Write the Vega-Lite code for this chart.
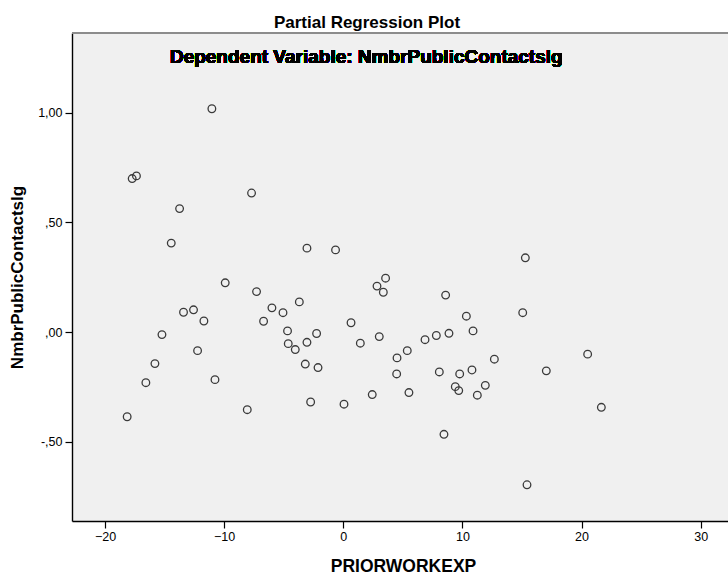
{
  "$schema": "https://vega.github.io/schema/vega-lite/v6.json",
  "width": 656,
  "height": 488,
  "autosize": {"type": "none"},
  "padding": {"left": 72, "top": 33, "right": 0, "bottom": 59},
  "background": "#ffffff",
  "title": {
    "text": "Partial Regression Plot",
    "font": "Liberation Sans",
    "fontSize": 17,
    "fontWeight": "bold",
    "color": "#000000",
    "anchor": "middle",
    "baseline": "middle",
    "offset": -8,
    "dx": -33
  },
  "config": {
    "view": {"fill": "#f0f0f0", "stroke": null},
    "font": "Liberation Sans"
  },
  "data": {
    "values": [
      {"PRIORWORKEXP": -11.03, "NmbrPublicContactslg": 1.018},
      {"PRIORWORKEXP": -17.72, "NmbrPublicContactslg": 0.700},
      {"PRIORWORKEXP": -17.36, "NmbrPublicContactslg": 0.712},
      {"PRIORWORKEXP": -7.70, "NmbrPublicContactslg": 0.634},
      {"PRIORWORKEXP": -13.74, "NmbrPublicContactslg": 0.563},
      {"PRIORWORKEXP": -14.44, "NmbrPublicContactslg": 0.406},
      {"PRIORWORKEXP": -3.05, "NmbrPublicContactslg": 0.383},
      {"PRIORWORKEXP": -0.65, "NmbrPublicContactslg": 0.375},
      {"PRIORWORKEXP": -9.91, "NmbrPublicContactslg": 0.225},
      {"PRIORWORKEXP": -7.28, "NmbrPublicContactslg": 0.185},
      {"PRIORWORKEXP": -5.99, "NmbrPublicContactslg": 0.111},
      {"PRIORWORKEXP": -5.06, "NmbrPublicContactslg": 0.089},
      {"PRIORWORKEXP": -3.69, "NmbrPublicContactslg": 0.138},
      {"PRIORWORKEXP": -13.41, "NmbrPublicContactslg": 0.091},
      {"PRIORWORKEXP": -12.57, "NmbrPublicContactslg": 0.102},
      {"PRIORWORKEXP": -11.70, "NmbrPublicContactslg": 0.051},
      {"PRIORWORKEXP": -6.69, "NmbrPublicContactslg": 0.050},
      {"PRIORWORKEXP": -15.22, "NmbrPublicContactslg": -0.011},
      {"PRIORWORKEXP": -4.68, "NmbrPublicContactslg": 0.006},
      {"PRIORWORKEXP": -2.24, "NmbrPublicContactslg": -0.006},
      {"PRIORWORKEXP": 0.65, "NmbrPublicContactslg": 0.043},
      {"PRIORWORKEXP": -12.23, "NmbrPublicContactslg": -0.084},
      {"PRIORWORKEXP": -15.81, "NmbrPublicContactslg": -0.143},
      {"PRIORWORKEXP": -16.57, "NmbrPublicContactslg": -0.230},
      {"PRIORWORKEXP": -10.77, "NmbrPublicContactslg": -0.216},
      {"PRIORWORKEXP": -18.14, "NmbrPublicContactslg": -0.385},
      {"PRIORWORKEXP": -8.06, "NmbrPublicContactslg": -0.353},
      {"PRIORWORKEXP": -4.62, "NmbrPublicContactslg": -0.052},
      {"PRIORWORKEXP": -4.03, "NmbrPublicContactslg": -0.079},
      {"PRIORWORKEXP": -3.05, "NmbrPublicContactslg": -0.046},
      {"PRIORWORKEXP": -3.19, "NmbrPublicContactslg": -0.145},
      {"PRIORWORKEXP": -2.12, "NmbrPublicContactslg": -0.161},
      {"PRIORWORKEXP": -2.74, "NmbrPublicContactslg": -0.318},
      {"PRIORWORKEXP": 0.06, "NmbrPublicContactslg": -0.328},
      {"PRIORWORKEXP": 15.28, "NmbrPublicContactslg": 0.339},
      {"PRIORWORKEXP": 3.55, "NmbrPublicContactslg": 0.246},
      {"PRIORWORKEXP": 2.83, "NmbrPublicContactslg": 0.210},
      {"PRIORWORKEXP": 3.36, "NmbrPublicContactslg": 0.182},
      {"PRIORWORKEXP": 8.59, "NmbrPublicContactslg": 0.169},
      {"PRIORWORKEXP": 10.33, "NmbrPublicContactslg": 0.073},
      {"PRIORWORKEXP": 15.06, "NmbrPublicContactslg": 0.089},
      {"PRIORWORKEXP": 1.43, "NmbrPublicContactslg": -0.050},
      {"PRIORWORKEXP": 3.02, "NmbrPublicContactslg": -0.020},
      {"PRIORWORKEXP": 6.86, "NmbrPublicContactslg": -0.034},
      {"PRIORWORKEXP": 7.81, "NmbrPublicContactslg": -0.015},
      {"PRIORWORKEXP": 8.87, "NmbrPublicContactslg": -0.005},
      {"PRIORWORKEXP": 10.89, "NmbrPublicContactslg": 0.006},
      {"PRIORWORKEXP": 5.37, "NmbrPublicContactslg": -0.084},
      {"PRIORWORKEXP": 4.51, "NmbrPublicContactslg": -0.117},
      {"PRIORWORKEXP": 12.68, "NmbrPublicContactslg": -0.123},
      {"PRIORWORKEXP": 20.51, "NmbrPublicContactslg": -0.100},
      {"PRIORWORKEXP": 4.48, "NmbrPublicContactslg": -0.190},
      {"PRIORWORKEXP": 8.06, "NmbrPublicContactslg": -0.181},
      {"PRIORWORKEXP": 9.77, "NmbrPublicContactslg": -0.190},
      {"PRIORWORKEXP": 10.80, "NmbrPublicContactslg": -0.172},
      {"PRIORWORKEXP": 17.04, "NmbrPublicContactslg": -0.176},
      {"PRIORWORKEXP": 9.40, "NmbrPublicContactslg": -0.248},
      {"PRIORWORKEXP": 9.69, "NmbrPublicContactslg": -0.266},
      {"PRIORWORKEXP": 11.92, "NmbrPublicContactslg": -0.242},
      {"PRIORWORKEXP": 11.25, "NmbrPublicContactslg": -0.287},
      {"PRIORWORKEXP": 5.51, "NmbrPublicContactslg": -0.275},
      {"PRIORWORKEXP": 2.43, "NmbrPublicContactslg": -0.284},
      {"PRIORWORKEXP": 21.66, "NmbrPublicContactslg": -0.342},
      {"PRIORWORKEXP": 8.45, "NmbrPublicContactslg": -0.465},
      {"PRIORWORKEXP": 15.42, "NmbrPublicContactslg": -0.695}
    ]
  },
  "layer": [
    {
      "mark": {"type": "rule", "color": "#8c8c8c", "strokeWidth": 1.6},
      "encoding": {"y": {"datum": 1.363, "type": "quantitative"}}
    },
    {
      "mark": {
        "type": "point",
        "shape": "circle",
        "filled": false,
        "size": 58,
        "stroke": "#3a3a3a",
        "strokeWidth": 1.3,
        "opacity": 1
      },
      "encoding": {
        "x": {
          "field": "PRIORWORKEXP",
          "type": "quantitative",
          "scale": {"domain": [-22.77, 32.29], "nice": false, "zero": false},
          "axis": {
            "title": "PRIORWORKEXP",
            "values": [-20, -10, 0, 10, 20, 30],
            "grid": false,
            "domainColor": "#000000",
            "domainWidth": 1.4,
            "tickColor": "#000000",
            "tickWidth": 1.2,
            "tickSize": 7,
            "labelFont": "Liberation Sans",
            "labelFontSize": 12.5,
            "labelColor": "#000000",
            "labelPadding": 2,
            "titleFont": "Liberation Sans",
            "titleFontSize": 17.5,
            "titleFontWeight": "bold",
            "titleColor": "#000000",
            "titleBaseline": "middle",
            "titleY": 45,
            "titleX": 331
          }
        },
        "y": {
          "field": "NmbrPublicContactslg",
          "type": "quantitative",
          "scale": {"domain": [-0.86, 1.363], "nice": false, "zero": false},
          "axis": {
            "title": "NmbrPublicContactslg",
            "values": [-0.5, 0, 0.5, 1],
            "labelExpr": "datum.value == 1 ? '1,00' : datum.value == 0.5 ? ',50' : datum.value == 0 ? ',00' : '-,50'",
            "grid": false,
            "domainColor": "#000000",
            "domainWidth": 1.4,
            "tickColor": "#000000",
            "tickWidth": 1.2,
            "tickSize": 7,
            "labelFont": "Liberation Sans",
            "labelFontSize": 12.5,
            "labelColor": "#000000",
            "labelPadding": 3,
            "titleFont": "Liberation Sans",
            "titleFontSize": 17,
            "titleFontWeight": "bold",
            "titleColor": "#000000",
            "titleAngle": -90,
            "titleBaseline": "middle",
            "titleX": -54.5,
            "titleY": 244
          }
        }
      }
    },
    {
      "mark": {
        "type": "text",
        "text": "Dependent Variable: NmbrPublicContactslg",
        "font": "Liberation Sans",
        "fontSize": 19,
        "fontWeight": "bold",
        "color": "#000000",
        "align": "center",
        "baseline": "middle"
      },
      "encoding": {
        "x": {"datum": 1.93, "type": "quantitative"},
        "y": {"datum": 1.2525, "type": "quantitative"}
      }
    }
  ]
}
